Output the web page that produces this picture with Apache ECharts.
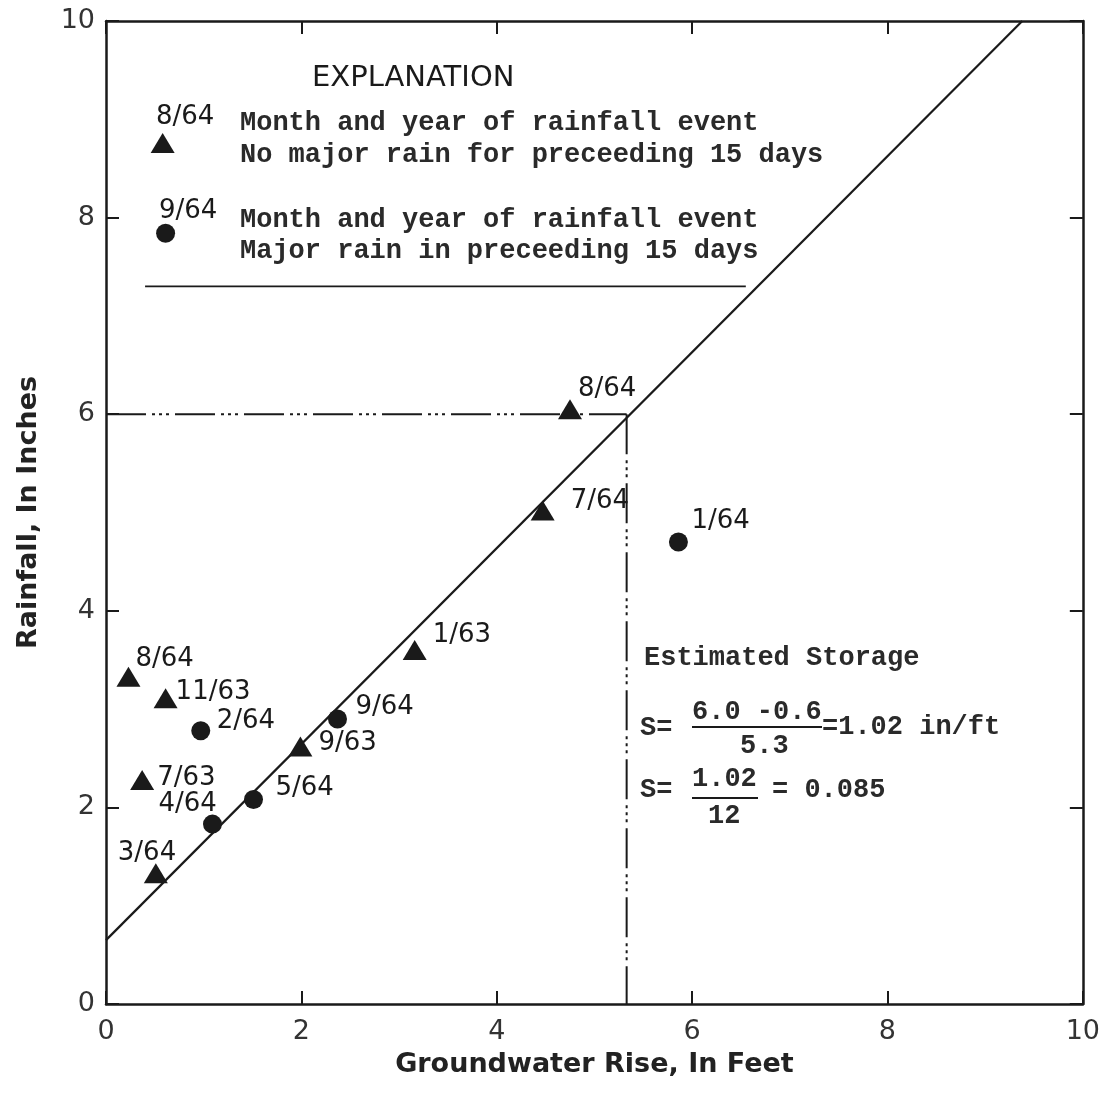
<!DOCTYPE html>
<html>
<head>
<meta charset="utf-8">
<script src="https://cdn.jsdelivr.net/npm/echarts@6/dist/echarts.min.js"></script>
<style>
html,body{margin:0;padding:0;background:#fff;}
#chart{width:1103px;height:1095px;}
</style>
</head>
<body>
<div id="chart"></div>
<script>
// ---- data ----
const triLabels = ['8/64','7/64','1/63','9/63','3/64','7/63','11/63','8/64'];
const triX      = [4.75, 4.47, 3.16, 1.99, 0.51, 0.37, 0.61, 0.23];
const triY      = [6.05, 5.02, 3.60, 2.62, 1.33, 2.28, 3.11, 3.33];

const dotLabels = ['1/64','9/64','5/64','4/64','2/64'];
const dotX      = [5.86, 2.37, 1.51, 1.09, 0.97];
const dotY      = [4.70, 2.90, 2.08, 1.83, 2.78];

const fitX = [0, 9.38];
const fitY = [0.65, 10];

const storageX = 5.33;   // groundwater rise at 6.0 in rainfall
const storageY = 6.0;

const ticks = [0, 2, 4, 6, 8, 10];

// ---- label placement (style) ----
const triOffsets = [[8,-20],[28,-9],[18,-15],[18,-3],[-38,-20],[15,-2],[10,-6],[7,-17]];
const dotOffsets = [[13,-21],[18,-12],[22,-11],[-54,-20],[16,-9]];

const INK = '#1a1a1a';
const MONO = '"Liberation Mono", "DejaVu Sans Mono", monospace';
const SANS = '"DejaVu Sans", sans-serif';

function pts(xs, ys, labels, offs) {
  return xs.map((x, i) => ({
    value: [x, ys[i], labels[i]],
    label: { offset: offs[i] }
  }));
}

const dashPattern = [40, 6, 3, 4, 3, 4, 3, 6];

const chart = echarts.init(document.getElementById('chart'), null, {renderer: 'canvas'});

const axisCommon = {
  type: 'value', min: 0, max: 10, interval: 2,
  axisLine: { show: true, onZero: false, lineStyle: { color: INK, width: 2.5 } },
  axisTick: { show: true, inside: true, length: 13, lineStyle: { color: INK, width: 2 } },
  splitLine: { show: false }
};

const option = {
  backgroundColor: '#ffffff',
  animation: false,
  grid: { left: 106, top: 21, right: 12, bottom: 91 },
  xAxis: [
    Object.assign({}, axisCommon, {
      position: 'bottom',
      name: 'Groundwater Rise, In Feet',
      nameLocation: 'middle', nameGap: 47,
      nameTextStyle: { fontFamily: SANS, fontSize: 27, fontWeight: 'bold', color: '#222' },
      axisLabel: { fontFamily: SANS, fontSize: 27, color: '#333', margin: 14,
                   formatter: v => ticks.includes(v) ? String(v) : '' }
    }),
    Object.assign({}, axisCommon, { position: 'top', axisLabel: { show: false } })
  ],
  yAxis: [
    Object.assign({}, axisCommon, {
      position: 'left',
      name: 'Rainfall, In Inches',
      nameLocation: 'middle', nameGap: 64,
      nameTextStyle: { fontFamily: SANS, fontSize: 27, fontWeight: 'bold', color: '#222' },
      axisLabel: { fontFamily: SANS, fontSize: 27, color: '#333', margin: 11,
                   formatter: v => ticks.includes(v) ? String(v) : '' }
    }),
    Object.assign({}, axisCommon, { position: 'right', axisLabel: { show: false } })
  ],
  series: [
    {
      type: 'line', name: 'fit', xAxisIndex: 0, yAxisIndex: 0,
      data: fitX.map((x, i) => [x, fitY[i]]),
      symbol: 'none', lineStyle: { color: INK, width: 2.2 }, z: 2
    },
    {
      type: 'line', name: 'hguide',
      data: [[0, storageY], [storageX, storageY]],
      symbol: 'none', lineStyle: { color: INK, width: 2, type: dashPattern }, z: 2
    },
    {
      type: 'line', name: 'vguide',
      data: [[storageX, storageY], [storageX, 0]],
      symbol: 'none', lineStyle: { color: INK, width: 2, type: dashPattern }, z: 2
    },
    {
      type: 'line', name: 'rule',
      data: [[0.40, 7.30], [6.55, 7.30]],
      symbol: 'none', lineStyle: { color: INK, width: 1.8 }, z: 2
    },
    {
      type: 'scatter', name: 'noRain',
      symbol: 'triangle', symbolSize: [24, 20],
      itemStyle: { color: INK, opacity: 1 },
      label: { show: true, position: 'inside', align: 'left', verticalAlign: 'middle',
               fontFamily: SANS, fontSize: 26, color: INK,
               formatter: p => p.value[2] },
      data: pts(triX, triY, triLabels, triOffsets), z: 5
    },
    {
      type: 'scatter', name: 'majorRain',
      symbol: 'circle', symbolSize: 19,
      itemStyle: { color: INK, opacity: 1 },
      label: { show: true, position: 'inside', align: 'left', verticalAlign: 'middle',
               fontFamily: SANS, fontSize: 26, color: INK,
               formatter: p => p.value[2] },
      data: pts(dotX, dotY, dotLabels, dotOffsets), z: 5
    },
    {
      type: 'scatter', name: 'keyTri', symbol: 'triangle', symbolSize: [24, 20],
      itemStyle: { color: INK, opacity: 1 }, data: [[0.58, 8.76]], z: 5
    },
    {
      type: 'scatter', name: 'keyDot', symbol: 'circle', symbolSize: 19,
      itemStyle: { color: INK, opacity: 1 }, data: [[0.61, 7.84]], z: 5
    }
  ],
  graphic: [
    { type: 'text', left: 312, top: 64, style: { text: 'EXPLANATION', font: '29px ' + SANS, fill: INK } },
    { type: 'text', left: 156, top: 104, style: { text: '8/64', font: '26px ' + SANS, fill: INK } },
    { type: 'text', left: 159, top: 198, style: { text: '9/64', font: '26px ' + SANS, fill: INK } },
    { type: 'text', left: 240, top: 110, style: { text: 'Month and year of rainfall event', font: 'bold 27px ' + MONO, fill: '#2a2a2a' } },
    { type: 'text', left: 240, top: 142, style: { text: 'No major rain for preceeding 15 days', font: 'bold 27px ' + MONO, fill: '#2a2a2a' } },
    { type: 'text', left: 240, top: 207, style: { text: 'Month and year of rainfall event', font: 'bold 27px ' + MONO, fill: '#2a2a2a' } },
    { type: 'text', left: 240, top: 238, style: { text: 'Major rain in preceeding 15 days', font: 'bold 27px ' + MONO, fill: '#2a2a2a' } },

    { type: 'text', left: 644, top: 645, style: { text: 'Estimated Storage', font: 'bold 27px ' + MONO, fill: '#2a2a2a' } },
    { type: 'text', left: 640, top: 715, style: { text: 'S=', font: 'bold 27px ' + MONO, fill: '#2a2a2a' } },
    { type: 'text', left: 692, top: 699, style: { text: '6.0 -0.6', font: 'bold 27px ' + MONO, fill: '#2a2a2a' } },
    { type: 'line', shape: { x1: 692, y1: 727, x2: 822, y2: 727 }, style: { stroke: INK, lineWidth: 2 } },
    { type: 'text', left: 740, top: 733, style: { text: '5.3', font: 'bold 27px ' + MONO, fill: '#2a2a2a' } },
    { type: 'text', left: 822, top: 714, style: { text: '=1.02 in/ft', font: 'bold 27px ' + MONO, fill: '#2a2a2a' } },
    { type: 'text', left: 640, top: 777, style: { text: 'S=', font: 'bold 27px ' + MONO, fill: '#2a2a2a' } },
    { type: 'text', left: 692, top: 766, style: { text: '1.02', font: 'bold 27px ' + MONO, fill: '#2a2a2a' } },
    { type: 'line', shape: { x1: 692, y1: 798, x2: 758, y2: 798 }, style: { stroke: INK, lineWidth: 2 } },
    { type: 'text', left: 708, top: 803, style: { text: '12', font: 'bold 27px ' + MONO, fill: '#2a2a2a' } },
    { type: 'text', left: 772, top: 777, style: { text: '= 0.085', font: 'bold 27px ' + MONO, fill: '#2a2a2a' } }
  ]
};

chart.setOption(option);
</script>
</body>
</html>
